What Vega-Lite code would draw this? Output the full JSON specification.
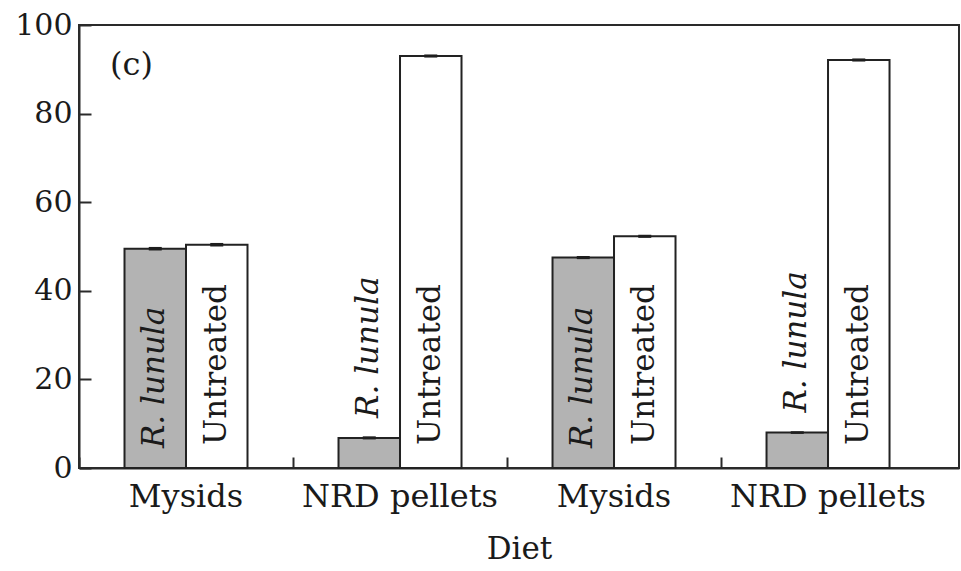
{
  "$schema": "https://vega.github.io/schema/vega-lite/v6.json",
  "width": 880,
  "height": 443,
  "autosize": {"type": "none"},
  "padding": {"left": 79, "top": 25, "right": 2, "bottom": 103},
  "background": "white",
  "config": {
    "font": "DejaVu Serif",
    "view": {"stroke": "#2a2a2a", "strokeWidth": 2},
    "axis": {
      "domainColor": "#2a2a2a",
      "domainWidth": 2,
      "tickColor": "#2a2a2a",
      "tickWidth": 2,
      "labelColor": "#1a1a1a",
      "titleColor": "#1a1a1a",
      "labelFont": "DejaVu Serif",
      "titleFont": "DejaVu Serif",
      "titleFontWeight": "normal",
      "grid": false
    }
  },
  "data": {
    "values": [
      {"slot": 1, "diet": "Mysids", "treatment": "R. lunula", "value": 49.5, "err": 0.4},
      {"slot": 1, "diet": "Mysids", "treatment": "Untreated", "value": 50.4, "err": 0.4},
      {"slot": 2, "diet": "NRD pellets", "treatment": "R. lunula", "value": 6.8, "err": 0.35},
      {"slot": 2, "diet": "NRD pellets", "treatment": "Untreated", "value": 93.0, "err": 0.35},
      {"slot": 3, "diet": "Mysids", "treatment": "R. lunula", "value": 47.5, "err": 0.35},
      {"slot": 3, "diet": "Mysids", "treatment": "Untreated", "value": 52.3, "err": 0.35},
      {"slot": 4, "diet": "NRD pellets", "treatment": "R. lunula", "value": 8.0, "err": 0.3},
      {"slot": 4, "diet": "NRD pellets", "treatment": "Untreated", "value": 92.1, "err": 0.35}
    ]
  },
  "transform": [
    {"calculate": "datum.value - datum.err", "as": "lo"},
    {"calculate": "datum.value + datum.err", "as": "hi"},
    {"calculate": "datum.value < 20 ? datum.value : 0", "as": "labelBase"}
  ],
  "encoding": {
    "x": {
      "field": "slot",
      "type": "ordinal",
      "axis": null,
      "scale": {"paddingInner": 0, "paddingOuter": 0.056, "align": 0}
    },
    "xOffset": {
      "field": "treatment",
      "type": "nominal",
      "scale": {"paddingInner": 0, "paddingOuter": 0.74}
    }
  },
  "resolve": {"axis": {"x": "independent"}},
  "layer": [
    {
      "mark": {"type": "bar", "stroke": "#222222", "strokeWidth": 2},
      "encoding": {
        "x": {
          "field": "slot",
          "type": "ordinal",
          "axis": {
            "orient": "bottom",
            "title": "Diet",
            "titleFontSize": 31,
            "titlePadding": 22,
            "labelAngle": 0,
            "labelFontSize": 32,
            "labelPadding": 13,
            "labelLimit": 0,
            "ticks": false,
            "tickSize": 0,
            "labelExpr": "datum.value == 1 || datum.value == 3 ? 'Mysids' : 'NRD pellets'"
          }
        },
        "y": {
          "field": "value",
          "type": "quantitative",
          "scale": {"domain": [0, 100], "nice": false},
          "axis": {
            "title": null,
            "values": [0, 20, 40, 60, 80, 100],
            "tickSize": -12,
            "labelPadding": 19,
            "labelFontSize": 30
          }
        },
        "fill": {
          "field": "treatment",
          "type": "nominal",
          "scale": {"domain": ["R. lunula", "Untreated"], "range": ["#b3b3b3", "#ffffff"]},
          "legend": null
        }
      }
    },
    {
      "mark": {"type": "bar", "width": 13, "fill": "#1e1e1e"},
      "encoding": {
        "x": {
          "field": "slot",
          "type": "ordinal",
          "axis": {
            "orient": "bottom",
            "title": null,
            "labels": false,
            "domain": false,
            "ticks": true,
            "tickSize": -11,
            "bandPosition": 0
          }
        },
        "y": {"field": "lo", "type": "quantitative"},
        "y2": {"field": "hi"}
      }
    },
    {
      "transform": [{"filter": "datum.treatment == 'R. lunula'"}],
      "mark": {
        "type": "text",
        "angle": 270,
        "align": "left",
        "baseline": "middle",
        "dx": 20,
        "fontSize": 31,
        "fontStyle": "italic",
        "color": "#1a1a1a"
      },
      "encoding": {
        "y": {"field": "labelBase", "type": "quantitative"},
        "text": {"field": "treatment"}
      }
    },
    {
      "transform": [{"filter": "datum.treatment == 'Untreated'"}],
      "mark": {
        "type": "text",
        "angle": 270,
        "align": "left",
        "baseline": "middle",
        "dx": 23,
        "fontSize": 31,
        "color": "#1a1a1a"
      },
      "encoding": {
        "y": {"field": "labelBase", "type": "quantitative"},
        "text": {"field": "treatment"}
      }
    },
    {
      "data": {"values": [{"tag": "(c)", "slot": 1, "ypos": 91}]},
      "mark": {
        "type": "text",
        "align": "left",
        "baseline": "middle",
        "dx": 31,
        "fontSize": 32,
        "color": "#1a1a1a"
      },
      "encoding": {
        "x": {"field": "slot", "type": "ordinal", "bandPosition": 0, "axis": null},
        "xOffset": {"value": 0},
        "y": {"field": "ypos", "type": "quantitative"},
        "text": {"field": "tag"}
      }
    }
  ]
}
